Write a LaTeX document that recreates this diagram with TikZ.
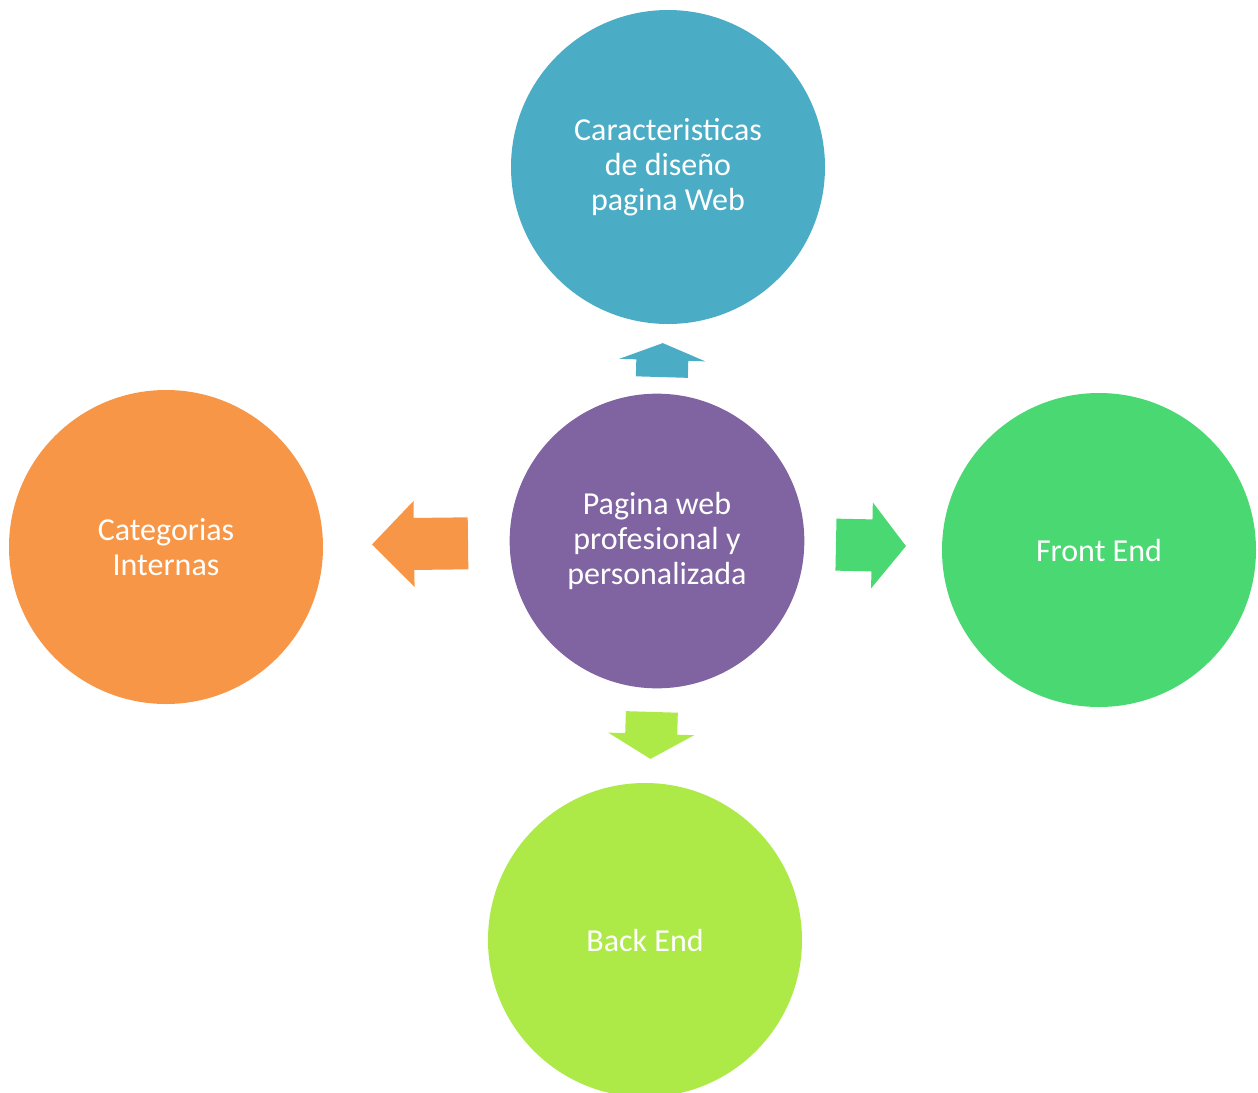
\documentclass[tikz,border=0pt]{standalone}
\usepackage{fontspec}
\setmainfont{Carlito}
\usetikzlibrary{calc}

\definecolor{cteal}{HTML}{4BACC6}
\definecolor{cpurple}{HTML}{8064A2}
\definecolor{cgreen}{HTML}{4AD873}
\definecolor{clime}{HTML}{ADE947}
\definecolor{corange}{HTML}{F79646}

% block arrow from node #1 towards node #2, starting #3 units from #1's centre,
% total length #4, head length #5, colour #6
\newcommand{\blockarrow}[6]{%
  \path let \p1=($(#2)-(#1)$), \n1={atan2(\y1,\x1)} in
    coordinate (ba) at ($(#1)!#3*0.75pt!(#2)$)
    [fill=#6, shift={(ba)}, rotate=\n1]
    (0,-26) -- ({#4-#5},-26) -- ({#4-#5},-43) -- (#4,0) -- ({#4-#5},43)
    -- ({#4-#5},26) -- (0,26) -- cycle;
}

\begin{document}
\begin{tikzpicture}[x=0.75pt,y=-0.75pt,
  bubble/.style={circle, minimum size=235.5pt, inner sep=0pt, text=white,
    align=center, font=\fontsize{24}{26.25}\selectfont},
  hub/.style={bubble, minimum size=221pt}]
\useasboundingbox (0,0) rectangle (1258,1093);
\clip (0,0) rectangle (1258,1093);

\node[bubble, fill=cteal]   (top)    at (668,167) {Caracteristicas\\de diseño\\pagina Web};
\node[hub,    fill=cpurple] (center) at (657,541) {Pagina web\\profesional y\\personalizada};
\node[bubble, fill=cgreen]  (right)  at (1099,550) {Front End};
\node[bubble, fill=corange] (left)   at (166,547) {Categorias\\Internas};
\node[bubble, fill=clime]   (bottom) at (645,940) {Back End};

\blockarrow{center}{top}{164}{34}{17}{cteal}
\blockarrow{center}{left}{189}{96}{42}{corange}
\blockarrow{center}{right}{179}{70}{34}{cgreen}
\blockarrow{center}{bottom}{171}{47}{25}{clime}
\end{tikzpicture}
\end{document}
